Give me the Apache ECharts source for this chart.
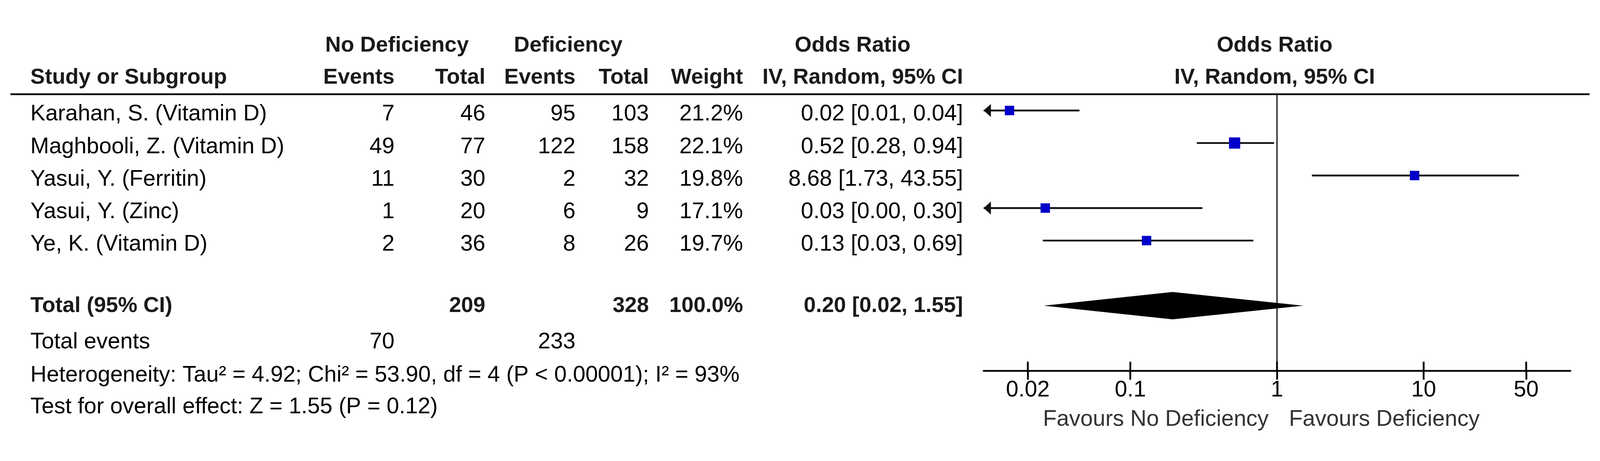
<!DOCTYPE html>
<html>
<head>
<meta charset="utf-8">
<script src="https://cdn.jsdelivr.net/npm/echarts@6/dist/echarts.min.js"></script>
<style>
html,body{margin:0;padding:0;background:#fff;overflow:hidden;width:100%;height:100%;}
#c{width:100vw;height:100vh;}
</style>
</head>
<body>
<div id="c"></div>
<script>
// ---------- data ----------
const studies = ['Karahan, S. (Vitamin D)', 'Maghbooli, Z. (Vitamin D)', 'Yasui, Y. (Ferritin)', 'Yasui, Y. (Zinc)', 'Ye, K. (Vitamin D)'];
const noDefEvents = [7, 49, 11, 1, 2];
const noDefTotal = [46, 77, 30, 20, 36];
const defEvents = [95, 122, 2, 6, 8];
const defTotal = [103, 158, 32, 9, 26];
const weightText = ['21.2%', '22.1%', '19.8%', '17.1%', '19.7%'];
const orText = ['0.02 [0.01, 0.04]', '0.52 [0.28, 0.94]', '8.68 [1.73, 43.55]', '0.03 [0.00, 0.30]', '0.13 [0.03, 0.69]'];
// plotted estimates
const orPoint = [0.015, 0.514, 8.67, 0.0263, 0.129];
const orLower = [0.009, 0.284, 1.73, 0.004, 0.0253];
const orUpper = [0.045, 0.955, 44.6, 0.31, 0.69];
const totalLabels = ['Total (95% CI)', '209', '328', '100.0%', '0.20 [0.02, 1.55]'];
const totalPoint = 0.194;
const totalLower = 0.0257;
const totalUpper = 1.51;
const totalEventsLabels = ['Total events', '70', '233'];
const footnotes = ['Heterogeneity: Tau\u00b2 = 4.92; Chi\u00b2 = 53.90, df = 4 (P < 0.00001); I\u00b2 = 93%', 'Test for overall effect: Z = 1.55 (P = 0.12)'];
const tickValues = [0.02, 0.1, 1, 10, 50];
const tickLabels = ['0.02', '0.1', '1', '10', '50'];
const axisRange = [0.01, 100];
const favourLabels = ['Favours No Deficiency', 'Favours Deficiency'];
const headerTop = ['No Deficiency', 'Deficiency', 'Odds Ratio', 'Odds Ratio'];
const headerCols = ['Study or Subgroup', 'Events', 'Total', 'Events', 'Total', 'Weight', 'IV, Random, 95% CI', 'IV, Random, 95% CI'];

// ---------- layout scale (design size 4421 x 1179) ----------
const el = document.getElementById('c');
const W = el.clientWidth || window.innerWidth;
const H = el.clientHeight || window.innerHeight;
const SX = W / 4421, SY = H / 1179, S = Math.min(SX, SY);
const px = v => v * SX, py = v => v * SY, ps = v => v * S;

// ---------- styles ----------
const FONT = "'Liberation Sans', Arial, sans-serif";
const FS = ps(62), FSB = ps(60);
const squareSizes = [26, 31, 26, 26, 26];
const SQ_COLOR = '#0000c8';
const LINE_W = ps(5);

const lg = v => Math.log10(v);
const LMIN = lg(axisRange[0]), LMAX = lg(axisRange[1]);
const TOTAL_ROW = 6;

const chart = echarts.init(el, null, {renderer: 'canvas', width: W, height: H});

const ciData = studies.map((s, i) => [lg(orLower[i]), lg(orUpper[i]), i, lg(orPoint[i])]);

const option = {
  animation: false,
  backgroundColor: '#fff',
  grid: {left: px(2718), right: px(82), top: py(241), bottom: py(231), containLabel: false, outerBoundsMode: 'none'},
  xAxis: {
    type: 'value', min: LMIN, max: LMAX,
    axisLine: {show: true, onZero: false, lineStyle: {color: '#000', width: LINE_W}},
    axisTick: {show: true, customValues: tickValues.map(lg), length: py(23), lineStyle: {color: '#000', width: LINE_W}},
    axisLabel: {
      show: true, customValues: tickValues.map(lg), margin: py(22),
      fontSize: FS, fontFamily: FONT, color: '#000',
      formatter: v => {
        const i = tickValues.findIndex(t => Math.abs(lg(t) - v) < 1e-6);
        return i >= 0 ? tickLabels[i] : '';
      }
    },
    splitLine: {show: false}
  },
  yAxis: {type: 'value', min: -0.5, max: 8, inverse: true, show: false, splitLine: {show: false}},
  series: [
    {
      type: 'line', name: 'null', data: [[0, -0.5], [0, 8]], symbol: 'none', silent: true, z: 1,
      lineStyle: {color: '#333', width: ps(4)}
    },
    {
      type: 'custom', name: 'upperTicks', clip: false, z: 3, silent: true,
      data: tickValues.map(v => [lg(v), 8]),
      encode: {x: 0, y: 1},
      renderItem: (params, api) => {
        const p = api.coord([api.value(0), api.value(1)]);
        return {type: 'line', shape: {x1: p[0], y1: p[1] - py(23), x2: p[0], y2: p[1]}, style: {stroke: '#000', lineWidth: LINE_W}};
      }
    },
    {
      type: 'custom', name: 'studies', clip: false, z: 5,
      data: ciData,
      encode: {x: [0, 1, 3], y: 2},
      renderItem: (params, api) => {
        const lo = api.value(0), hi = api.value(1), row = api.value(2), pt = api.value(3);
        const p0 = api.coord([Math.max(lo, LMIN), row]);
        const p1 = api.coord([Math.min(hi, LMAX), row]);
        const children = [{type: 'line', shape: {x1: p0[0], y1: p0[1], x2: p1[0], y2: p1[1]}, style: {stroke: '#111', lineWidth: LINE_W}}];
        const al = ps(20), ah = ps(18);
        if (lo < LMIN) {
          children.push({type: 'polygon', shape: {points: [[p0[0], p0[1]], [p0[0] + al, p0[1] - ah], [p0[0] + al, p0[1] + ah]]}, style: {fill: '#111'}});
        }
        if (hi > LMAX) {
          children.push({type: 'polygon', shape: {points: [[p1[0], p1[1]], [p1[0] - al, p1[1] - ah], [p1[0] - al, p1[1] + ah]]}, style: {fill: '#111'}});
        }
        const c = api.coord([pt, row]);
        const s = ps(squareSizes[params.dataIndex]);
        children.push({type: 'rect', shape: {x: c[0] - s / 2, y: c[1] - s / 2, width: s, height: s}, style: {fill: SQ_COLOR}});
        return {type: 'group', children};
      }
    },
    {
      type: 'custom', name: 'total', clip: false, z: 5,
      data: [[lg(totalPoint), lg(totalLower), lg(totalUpper), TOTAL_ROW]],
      encode: {x: [0, 1, 2], y: 3},
      renderItem: (params, api) => {
        const row = api.value(3);
        const c = api.coord([api.value(0), row]);
        const l = api.coord([api.value(1), row]);
        const r = api.coord([api.value(2), row]);
        const h = py(35);
        return {type: 'polygon', shape: {points: [[l[0], l[1]], [c[0], c[1] - h], [r[0], r[1]], [c[0], c[1] + h]]}, style: {fill: '#000'}};
      }
    }
  ]
};
chart.setOption(option);

// ---------- table text ----------
const rowPx = r => chart.convertToPixel({yAxisIndex: 0}, r);
const x1 = chart.convertToPixel({xAxisIndex: 0}, 0);
const g = [];
function txt(text, x, y, align, bold, color) {
  g.push({
    type: 'text', x: x, y: y, silent: true,
    style: {
      text: text, fontSize: bold ? FSB : FS, fontFamily: FONT,
      fontWeight: bold ? 'bold' : 'normal', fill: color || (bold ? '#1a1a1a' : '#000'),
      align: align, verticalAlign: 'middle'
    }
  });
}
const X_STUDY = px(84), X_NE = px(1090), X_NT = px(1341), X_DE = px(1590), X_DT = px(1793), X_W = px(2053), X_OR = px(2661);
const X_RH = px(3522);

// headers
const yH1 = py(117), yH2 = py(199);
txt(headerTop[0], px(1097), yH1, 'center', true);
txt(headerTop[1], px(1570), yH1, 'center', true);
txt(headerTop[2], px(2356), yH1, 'center', true);
txt(headerTop[3], X_RH, yH1, 'center', true);
txt(headerCols[0], X_STUDY, yH2, 'left', true);
txt(headerCols[1], X_NE, yH2, 'right', true);
txt(headerCols[2], X_NT, yH2, 'right', true);
txt(headerCols[3], X_DE, yH2, 'right', true);
txt(headerCols[4], X_DT, yH2, 'right', true);
txt(headerCols[5], X_W, yH2, 'right', true);
txt(headerCols[6], X_OR, yH2, 'right', true);
txt(headerCols[7], X_RH, yH2, 'center', true);

// header rule
g.push({type: 'line', silent: true, shape: {x1: px(29), y1: py(241), x2: px(4392), y2: py(241)}, style: {stroke: '#000', lineWidth: LINE_W}});

// study rows
studies.forEach((s, i) => {
  const y = rowPx(i) + py(10);
  txt(s, X_STUDY, y, 'left', false);
  txt(String(noDefEvents[i]), X_NE, y, 'right', false);
  txt(String(noDefTotal[i]), X_NT, y, 'right', false);
  txt(String(defEvents[i]), X_DE, y, 'right', false);
  txt(String(defTotal[i]), X_DT, y, 'right', false);
  txt(weightText[i], X_W, y, 'right', false);
  txt(orText[i], X_OR, y, 'right', false);
});

// total row
const yT = rowPx(TOTAL_ROW) + py(1);
txt(totalLabels[0], X_STUDY, yT, 'left', true);
txt(totalLabels[1], X_NT, yT, 'right', true);
txt(totalLabels[2], X_DT, yT, 'right', true);
txt(totalLabels[3], X_W, yT, 'right', true);
txt(totalLabels[4], X_OR, yT, 'right', true);

// total events
const yE = py(875);
txt(totalEventsLabels[0], X_STUDY, yE, 'left', false);
txt(totalEventsLabels[1], X_NE, yE, 'right', false);
txt(totalEventsLabels[2], X_DE, yE, 'right', false);

// footnotes
txt(footnotes[0], X_STUDY, py(960), 'left', false);
txt(footnotes[1], X_STUDY, py(1041), 'left', false);

// favours labels
txt(favourLabels[0], x1 - px(23), py(1073), 'right', false, '#333');
txt(favourLabels[1], x1 + px(33), py(1073), 'left', false, '#333');

chart.setOption({graphic: {elements: g}});
</script>
</body>
</html>
